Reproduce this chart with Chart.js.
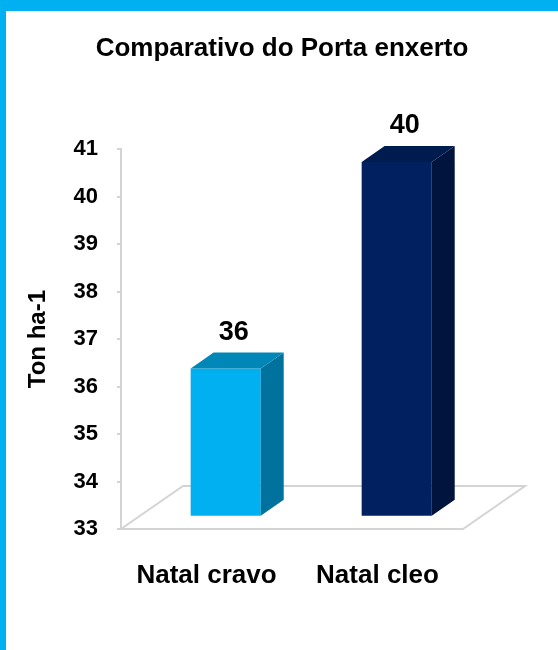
<!DOCTYPE html>
<html>
<head>
<meta charset="utf-8">
<script src="https://cdn.jsdelivr.net/npm/chart.js@4.4.0/dist/chart.umd.min.js"></script>
<style>
  body { margin: 0; background: #fff; }
  #frame {
    position: absolute; left: 0; top: 0;
    width: 552px; height: 639px;
    border-left: 6px solid #00b0f0;
    border-top: 11px solid #00b0f0;
    background: #fff;
  }
</style>
</head>
<body>
<div id="frame"><canvas id="chart" width="552" height="639"></canvas></div>
<script>
var categories = ['Natal cravo', 'Natal cleo'];
var yields = [36.1, 40.45];
var yMin = 33, yMax = 41;

var font = 'Liberation Sans, Arial, Helvetica, sans-serif';

// 3d look: floor depth vector, bars sit part way into the floor
const floorDX = 62, floorDY = 43;
const barShift = 0.31, barDepth = 0.37;

const bars3d = {
  id: 'bars3d',
  beforeDatasetsDraw(chart) {
    const ctx = chart.ctx;
    const a = chart.chartArea;
    const y0 = chart.scales.y.getPixelForValue(yMin);
    ctx.save();
    ctx.strokeStyle = '#d4d4d4';
    ctx.lineWidth = 2;
    ctx.beginPath();
    ctx.moveTo(a.left, y0);
    ctx.lineTo(a.right, y0);
    ctx.lineTo(a.right + floorDX, y0 - floorDY);
    ctx.lineTo(a.left + floorDX, y0 - floorDY);
    ctx.closePath();
    ctx.stroke();
    ctx.restore();
    // front faces get pushed back into the floor
    ctx.save();
    ctx.translate(floorDX * barShift, -floorDY * barShift);
  },
  afterDatasetsDraw(chart) {
    const ctx = chart.ctx;
    ctx.restore();
    const sx = floorDX * barShift, sy = floorDY * barShift;
    const dx = floorDX * barDepth, dy = floorDY * barDepth;
    const ds = chart.data.datasets[0];
    const y0 = chart.scales.y.getPixelForValue(yMin);
    chart.getDatasetMeta(0).data.forEach(function(bar, i) {
      const left = bar.x - bar.width / 2 + sx;
      const right = bar.x + bar.width / 2 + sx;
      const top = bar.y - sy;
      const bottom = y0 - sy;
      ctx.save();
      // side
      ctx.fillStyle = ds.sideColor[i];
      ctx.beginPath();
      ctx.moveTo(right, top);
      ctx.lineTo(right + dx, top - dy);
      ctx.lineTo(right + dx, bottom - dy);
      ctx.lineTo(right, bottom);
      ctx.closePath();
      ctx.fill();
      // top
      ctx.fillStyle = ds.topColor[i];
      ctx.beginPath();
      ctx.moveTo(left, top);
      ctx.lineTo(left + dx, top - dy);
      ctx.lineTo(right + dx, top - dy);
      ctx.lineTo(right, top);
      ctx.closePath();
      ctx.fill();
      // value label
      ctx.fillStyle = '#000';
      ctx.font = 'bold 27px ' + font;
      ctx.textAlign = 'center';
      ctx.textBaseline = 'middle';
      ctx.fillText(Math.round(yields[i]), bar.x + sx + 8, top - 36);
      ctx.restore();
    });
  }
};

const ctx = document.getElementById('chart').getContext('2d');
new Chart(ctx, {
  type: 'bar',
  data: {
    labels: categories,
    datasets: [{
      data: yields,
      backgroundColor: ['#00b0f0', '#002060'],
      sideColor: ['#00729d', '#00143d'],
      topColor: ['#0087b8', '#001b4e'],
      borderWidth: 0,
      barPercentage: 0.41,
      categoryPercentage: 1
    }]
  },
  options: {
    responsive: false,
    animation: false,
    layout: {
      padding: 0
    },
    plugins: {
      legend: { display: false },
      tooltip: { enabled: false },
      title: {
        display: true,
        text: 'Comparativo do Porta enxerto',
        color: '#000',
        font: { family: font, size: 26, weight: 'bold' },
        padding: { top: 22, bottom: 85 }
      }
    },
    scales: {
      x: {
        offset: true,
        grid: { display: false },
        border: { display: false },
        ticks: {
          color: '#000',
          padding: 23,
          font: { family: font, size: 26, weight: 'bold' }
        },
        afterFit: function(scale) { scale.height = 121; }
      },
      y: {
        min: yMin,
        max: yMax,
        ticks: {
          stepSize: 1,
          color: '#000',
          padding: 19,
          font: { family: font, size: 22, weight: 'bold' }
        },
        grid: {
          drawOnChartArea: false,
          drawTicks: true,
          tickLength: 4,
          color: '#d4d4d4',
          lineWidth: 2
        },
        border: { display: true, color: '#d4d4d4', width: 2 },
        title: {
          display: true,
          text: 'Ton ha-1',
          color: '#000',
          font: { family: font, size: 24, weight: 'bold' },
          padding: { top: 18, bottom: 0 }
        },
        afterFit: function(scale) { scale.width = 115; }
      },
      // empty right axis keeps room for the floor's depth
      yRight: {
        position: 'right',
        min: yMin,
        max: yMax,
        ticks: { display: false },
        grid: { display: false },
        border: { display: false },
        afterFit: function(scale) { scale.width = 95; }
      }
    }
  },
  plugins: [bars3d]
});
</script>
</body>
</html>
